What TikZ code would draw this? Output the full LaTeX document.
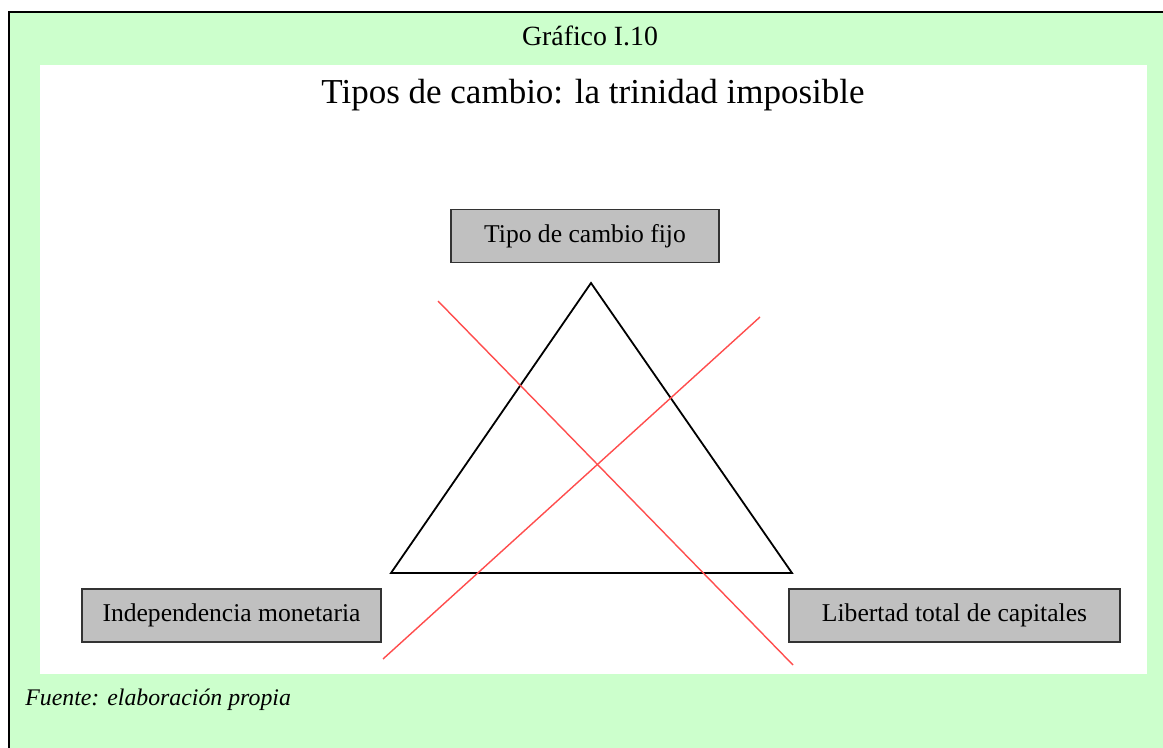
\documentclass[tikz,border=0pt]{standalone}
\usepackage{fontspec}
\setmainfont{Liberation Serif}
\definecolor{verdeFondo}{HTML}{CCFFCC}
\definecolor{grisCaja}{HTML}{C0C0C0}
\definecolor{rojoCruz}{HTML}{FF4D4D}
\begin{document}
\begin{tikzpicture}[x=0.5pt, y=-0.5pt,
  caja/.style={draw=black!80, line width=0.6pt, fill=grisCaja, minimum width=#1,
               minimum height=26.5pt, inner sep=0pt, font=\fontsize{12.8}{15}\selectfont},
  lado/.style={line width=0.9pt},
  tachado/.style={draw=rojoCruz, line width=0.7pt}
]
  \useasboundingbox (0,0) rectangle (1163,748);
  \clip (0,0) rectangle (1163,748);
  \draw[fill=verdeFondo, line width=1pt] (9,12.5) rectangle (1180,760);
  \fill[white] (40,65) rectangle (1147,674);
  \node[font=\fontsize{13.9}{16}\selectfont] (grafico) at (590,36) {Gráfico I.10};
  \node[font=\fontsize{17.5}{21}\selectfont] (titulo) at (593,95) {Tipos de cambio: la trinidad imposible};
  \node[caja=134pt]   (fijo)     at (585,236)     {Tipo de cambio fijo};
  \node[caja=149.5pt] (indep)    at (231.5,615.5) {Independencia monetaria};
  \node[caja=165.5pt] (libertad) at (954.5,615.5) {Libertad total de capitales};
  \node[anchor=west, inner sep=0pt, font=\fontsize{11.9}{14}\selectfont\itshape] (fuente) at (25,700) {Fuente: elaboración propia};
  % triangulo
  \coordinate (cima) at (591,283);
  \coordinate (izq)  at (391,573);
  \coordinate (der)  at (792,573);
  \draw[lado] (cima) -- (der) -- (izq) -- cycle;
  % lineas rojas
  \coordinate (a1) at (438,301);
  \coordinate (a2) at (793,665);
  \coordinate (b1) at (383,659);
  \coordinate (b2) at (760,317);
  \draw[tachado] (a1) -- (a2);
  \draw[tachado] (b1) -- (b2);
\end{tikzpicture}
\end{document}
